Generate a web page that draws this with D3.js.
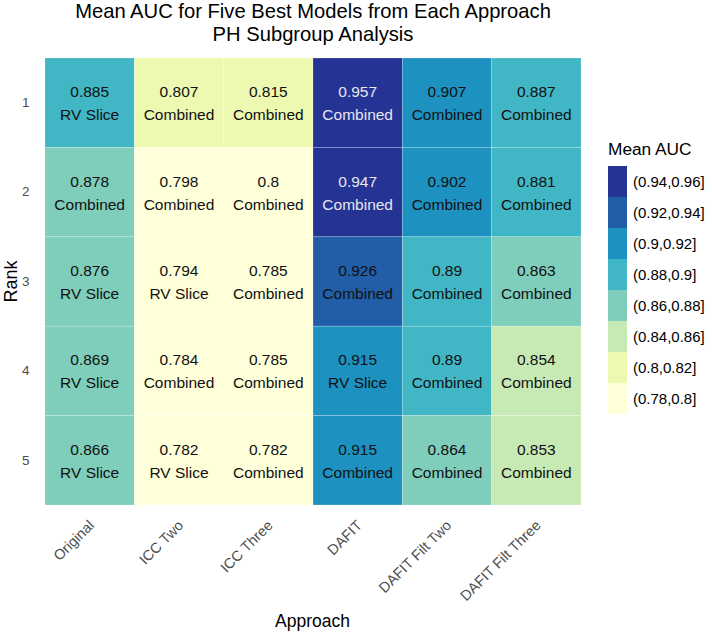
<!DOCTYPE html>
<html>
<head>
<meta charset="utf-8">
<script src="https://cdn.jsdelivr.net/npm/d3@7/dist/d3.min.js"></script>
<style>
  body { margin: 0; background: #fff; }
  svg { display: block; font-family: "Liberation Sans", Arial, sans-serif; }
</style>
</head>
<body>
<svg id="chart" width="712" height="633"></svg>
<script>
// ---- data ----
const approaches = ["Original", "ICC Two", "ICC Three", "DAFIT", "DAFIT Filt Two", "DAFIT Filt Three"];
const ranks = [1, 2, 3, 4, 5];
const originalAUC = [0.885, 0.878, 0.876, 0.869, 0.866];
const originalModel = ["RV Slice", "Combined", "RV Slice", "RV Slice", "RV Slice"];
const iccTwoAUC = [0.807, 0.798, 0.794, 0.784, 0.782];
const iccTwoModel = ["Combined", "Combined", "RV Slice", "Combined", "RV Slice"];
const iccThreeAUC = [0.815, 0.8, 0.785, 0.785, 0.782];
const iccThreeModel = ["Combined", "Combined", "Combined", "Combined", "Combined"];
const dafitAUC = [0.957, 0.947, 0.926, 0.915, 0.915];
const dafitModel = ["Combined", "Combined", "Combined", "RV Slice", "Combined"];
const filtTwoAUC = [0.907, 0.902, 0.89, 0.89, 0.864];
const filtTwoModel = ["Combined", "Combined", "Combined", "Combined", "Combined"];
const filtThreeAUC = [0.887, 0.881, 0.863, 0.854, 0.853];
const filtThreeModel = ["Combined", "Combined", "Combined", "Combined", "Combined"];

const breaks = [0.78, 0.8, 0.82, 0.84, 0.86, 0.88, 0.9, 0.92, 0.94, 0.96];
const legendLevels = ["(0.78,0.8]", "(0.8,0.82]", "(0.84,0.86]", "(0.86,0.88]", "(0.88,0.9]", "(0.9,0.92]", "(0.92,0.94]", "(0.94,0.96]"];
const palette = ["#ffffd9", "#edf8b1", "#c7e9b4", "#7fcdbb", "#41b6c4", "#1d91c0", "#225ea8", "#253494"];

// ---- build table ----
const aucBy = [originalAUC, iccTwoAUC, iccThreeAUC, dafitAUC, filtTwoAUC, filtThreeAUC];
const modelBy = [originalModel, iccTwoModel, iccThreeModel, dafitModel, filtTwoModel, filtThreeModel];
const cells = [];
approaches.forEach((a, i) => {
  ranks.forEach((r, j) => {
    const v = aucBy[i][j];
    const b = d3.bisectLeft(breaks, v);
    const label = "(" + breaks[b - 1] + "," + breaks[b] + "]";
    cells.push({ approach: a, rank: r, value: v, model: modelBy[i][j], bin: label, binIdx: b });
  });
});

const svg = d3.select("#chart");
const plotL = 45, plotR = 581, plotT = 58, plotB = 505;

const x = d3.scaleBand().domain(approaches).range([plotL, plotR]);
const y = d3.scaleBand().domain(ranks).range([plotT, plotB]);
const color = d3.scaleOrdinal().domain(legendLevels).range(palette);

// tiles
svg.append("g").selectAll("rect").data(cells).join("rect")
  .attr("x", d => x(d.approach))
  .attr("y", d => y(d.rank))
  .attr("width", x.bandwidth())
  .attr("height", y.bandwidth())
  .attr("fill", d => color(d.bin))
  .attr("stroke", "#ffffff")
  .attr("stroke-opacity", 0.35)
  .attr("stroke-width", 0.6);

// cell text
const txt = svg.append("g").selectAll("g").data(cells).join("g")
  .attr("transform", d => `translate(${x(d.approach) + x.bandwidth() / 2},${y(d.rank) + y.bandwidth() / 2})`)
  .attr("font-size", 15.5)
  .attr("text-anchor", "middle")
  .attr("fill", d => d.binIdx >= 9 ? "#e6e6ee" : "#111111");
txt.append("text").attr("y", -5.5).text(d => String(d.value));
txt.append("text").attr("y", 17.5).text(d => d.model);

// y axis
const yAxis = svg.append("g").attr("transform", `translate(${plotL - 15.5},0)`)
  .call(d3.axisLeft(y).tickSize(0).tickPadding(0));
yAxis.select(".domain").remove();
yAxis.selectAll("text").attr("font-size", 13.5).attr("fill", "#4d4d4d")
  .attr("font-family", "Liberation Sans, Arial, sans-serif");

// x axis
const xAxis = svg.append("g").attr("transform", `translate(0,${plotB + 8})`)
  .call(d3.axisBottom(x).tickSize(0).tickPadding(0));
xAxis.select(".domain").remove();
xAxis.selectAll("text")
  .attr("font-size", 14.5).attr("fill", "#4d4d4d")
  .attr("font-family", "Liberation Sans, Arial, sans-serif")
  .attr("text-anchor", "end")
  .attr("dy", "0.71em")
  .attr("transform", "translate(-2,6) rotate(-45)");

// axis titles
svg.append("text").attr("x", 312.5).attr("y", 627)
  .attr("text-anchor", "middle").attr("font-size", 17.5).attr("fill", "#000").text("Approach");
svg.append("text").attr("transform", `translate(17,${(plotT + plotB) / 2}) rotate(-90)`)
  .attr("text-anchor", "middle").attr("font-size", 18).attr("fill", "#000").text("Rank");

// title
svg.append("text").attr("x", 313).attr("y", 18)
  .attr("text-anchor", "middle").attr("font-size", 20.2).attr("fill", "#000")
  .text("Mean AUC for Five Best Models from Each Approach");
svg.append("text").attr("x", 313).attr("y", 41)
  .attr("text-anchor", "middle").attr("font-size", 20.2).attr("fill", "#000")
  .text("PH Subgroup Analysis");

// legend
const lg = svg.append("g");
lg.append("text").attr("x", 608).attr("y", 155).attr("font-size", 17.3).attr("fill", "#000").text("Mean AUC");
const keyH = 31, keyTop = 166;
const levelsDesc = legendLevels.slice().reverse();
const keys = lg.selectAll("g.key").data(levelsDesc).join("g").attr("class", "key")
  .attr("transform", (d, i) => `translate(608,${keyTop + i * keyH})`);
keys.append("rect").attr("width", 19).attr("height", keyH).attr("fill", d => color(d));
keys.append("text").attr("x", 25).attr("y", keyH / 2).attr("dy", "0.35em")
  .attr("font-size", 15).attr("fill", "#000").text(d => d);
</script>
</body>
</html>
